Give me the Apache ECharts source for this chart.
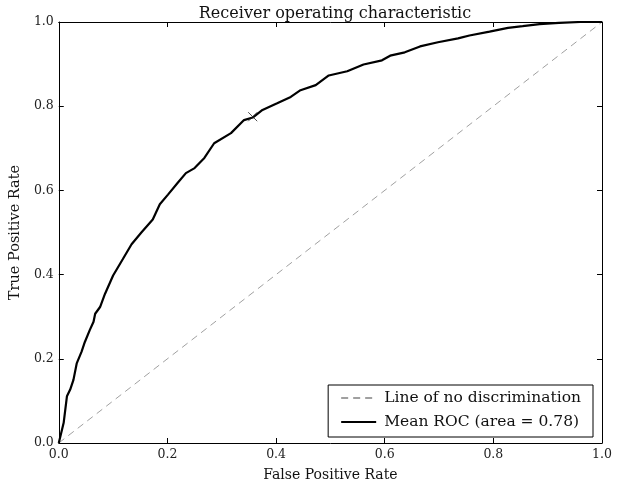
<!DOCTYPE html>
<html>
<head>
<meta charset="utf-8">
<script src="https://cdn.jsdelivr.net/npm/echarts@6/dist/echarts.min.js"></script>
<style>
  html, body { margin: 0; padding: 0; background: #fff; }
  #chart { width: 619px; height: 487px; }
</style>
</head>
<body>
<div id="chart"></div>
<script>
// mean ROC curve
const fpr = [0, 0.009, 0.015, 0.021, 0.027, 0.033, 0.042, 0.048, 0.057, 0.064, 0.067, 0.076,
  0.085, 0.100, 0.118, 0.134, 0.152, 0.173, 0.186, 0.201, 0.219, 0.234, 0.250, 0.268,
  0.286, 0.317, 0.341, 0.357, 0.375, 0.402, 0.427, 0.445, 0.473, 0.497, 0.531, 0.561,
  0.595, 0.610, 0.637, 0.665, 0.698, 0.735, 0.756, 0.793, 0.827, 0.854, 0.885, 0.921,
  0.960, 1.0];
const tpr = [0, 0.048, 0.111, 0.127, 0.150, 0.189, 0.217, 0.240, 0.268, 0.288, 0.307, 0.323,
  0.354, 0.398, 0.437, 0.472, 0.500, 0.531, 0.567, 0.590, 0.618, 0.641, 0.653, 0.677,
  0.712, 0.736, 0.767, 0.773, 0.791, 0.807, 0.822, 0.838, 0.850, 0.873, 0.883, 0.899,
  0.909, 0.920, 0.928, 0.942, 0.952, 0.961, 0.968, 0.977, 0.986, 0.990, 0.995, 0.998,
  1.0, 1.0];
const diagonal = [[0, 0], [1, 1]];
const thresholdPoint = [[0.357, 0.775]];
const seriesNames = ['Line of no discrimination', 'Mean ROC (area = 0.78)'];

const FONT = 'DejaVu Serif';

const chart = echarts.init(document.getElementById('chart'));

const baseAxis = {
  type: 'value',
  min: 0,
  max: 1,
  interval: 0.2,
  axisLine: { show: true, onZero: false, lineStyle: { color: '#000', width: 1 } },
  axisTick: { show: true, inside: true, length: 5, lineStyle: { color: '#000' } },
  splitLine: { show: false },
  axisLabel: { fontFamily: FONT, fontSize: 12.5, color: '#222', formatter: v => v.toFixed(1) }
};

const option = {
  animation: false,
  backgroundColor: '#fff',
  title: {
    text: 'Receiver operating characteristic',
    left: 330,
    textAlign: 'center',
    top: 1,
    textStyle: { fontFamily: FONT, fontSize: 16, fontWeight: 'normal', color: '#111' }
  },
  grid: { left: 57, right: 17, top: 22, bottom: 40 },
  legend: {
    data: seriesNames,
    orient: 'vertical',
    right: 26,
    bottom: 50,
    itemWidth: 35,
    itemHeight: 14,
    itemGap: 8,
    padding: [5, 12, 7, 12],
    borderColor: '#000',
    borderWidth: 1,
    backgroundColor: '#fff',
    itemStyle: { opacity: 0 },
    textStyle: { fontFamily: FONT, fontSize: 15.5, color: '#111', padding: [0, 0, 0, 3] }
  },
  xAxis: [
    Object.assign({}, baseAxis, {
      position: 'bottom',
      name: 'False Positive Rate',
      nameLocation: 'middle',
      nameGap: 25,
      nameTextStyle: { fontFamily: FONT, fontSize: 14, color: '#111' },
      axisLabel: Object.assign({}, baseAxis.axisLabel, { margin: 5 })
    }),
    Object.assign({}, baseAxis, { position: 'top', axisLabel: { show: false } })
  ],
  yAxis: [
    Object.assign({}, baseAxis, {
      position: 'left',
      name: 'True Positive Rate',
      nameLocation: 'middle',
      nameGap: 29,
      nameTextStyle: { fontFamily: FONT, fontSize: 14.5, color: '#111' },
      axisLabel: Object.assign({}, baseAxis.axisLabel, { margin: 5 })
    }),
    Object.assign({}, baseAxis, { position: 'right', axisLabel: { show: false } })
  ],
  series: [
    {
      name: seriesNames[0],
      type: 'line',
      data: diagonal,
      symbol: 'none',
      lineStyle: { color: '#a0a0a0', width: 1, type: [7, 5] },
      itemStyle: { color: '#a0a0a0' }
    },
    {
      name: seriesNames[1],
      type: 'line',
      data: fpr.map((x, i) => [x, tpr[i]]),
      symbol: 'none',
      lineStyle: { color: '#000', width: 2.2 },
      itemStyle: { color: '#000' }
    },
    {
      name: 'threshold',
      type: 'scatter',
      data: thresholdPoint,
      symbol: 'path://M0,0L10,10M10,0L0,10',
      symbolSize: 9,
      itemStyle: { color: 'none', borderColor: '#222', borderWidth: 1 },
      z: 5
    }
  ]
};

chart.setOption(option);
</script>
</body>
</html>
